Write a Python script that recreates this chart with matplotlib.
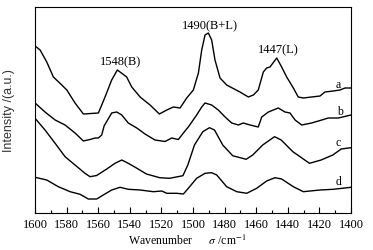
import numpy as np
import matplotlib
matplotlib.use("Agg")
import matplotlib.pyplot as plt
from matplotlib.ticker import MultipleLocator

plt.rcParams['font.family'] = ['Liberation Serif', 'DejaVu Serif']
plt.rcParams['mathtext.fontset'] = 'stix'

# spectra (wavenumber, intensity in arbitrary units)
wn_a = [1600, 1596.8, 1592.6, 1588.4, 1583.1, 1579.9, 1574.7, 1569.4, 1559.9, 1555.7,
        1551.5, 1547.9, 1542.0, 1538.8, 1533.5, 1527.2, 1521.3, 1516.6, 1512.5, 1508.2,
        1504.0, 1499.8, 1496.6, 1494.5, 1492.4, 1490.3, 1488.2, 1486.1, 1482.9, 1478.7,
        1470.3, 1465.0, 1461.8, 1458.7, 1455.5, 1453.4, 1451.3, 1447.0, 1443.9, 1440.7,
        1436.5, 1433.4, 1430.2, 1419.6, 1416.5, 1411.2, 1407.0, 1403.8, 1400.0]
int_a = [167, 163, 151, 136, 128, 123, 110, 99, 100, 116,
         133, 143, 136, 126, 116, 108, 99, 103, 106, 105,
         115, 123, 140, 163, 178, 180, 173, 153, 135, 128,
         121, 116, 118, 123, 141, 145, 146, 155, 146, 136,
         125, 116, 115, 117, 121, 122, 123, 125, 125]

wn_b = [1600, 1593.7, 1587.3, 1581.0, 1574.7, 1569.4, 1565.2, 1562.0, 1559.9, 1557.8,
        1556.3, 1551.5, 1548.3, 1545.1, 1541.0, 1535.6, 1530.4, 1524.1, 1517.7, 1513.5,
        1509.3, 1506.1, 1503.0, 1497.7, 1494.5, 1492.4, 1488.2, 1484.0, 1479.7, 1475.5,
        1471.3, 1468.2, 1463.9, 1458.7, 1456.5, 1452.3, 1446.0, 1441.8, 1438.6, 1435.4,
        1431.2, 1424.9, 1418.5, 1414.4, 1408.0, 1400]
int_b = [110, 101, 93, 88, 80, 72, 73.5, 75, 75, 78,
         87, 100, 101, 98, 90, 85, 79, 73, 71.5, 75,
         73.5, 80, 86, 98, 106, 110, 108, 103, 96, 90,
         88, 90, 88, 86, 96, 101, 105, 101, 100, 93,
         88, 90, 93, 95, 95, 98]

wn_c = [1600, 1593.7, 1587.3, 1581.0, 1574.7, 1568.4, 1565.2, 1561.0, 1554.6, 1549.4,
        1545.1, 1541.0, 1535.8, 1529.5, 1521.1, 1514.8, 1506.4, 1503.3, 1499.1, 1493.8,
        1489.6, 1486.4, 1481.2, 1474.9, 1466.4, 1462.2, 1455.9, 1448.4, 1444.2, 1436.8,
        1426.3, 1418.9, 1411.5, 1406.2, 1400]
int_c = [94.7, 83, 69.7, 56.3, 48, 39.7, 36.3, 37.5, 44, 49.7,
         53, 49.7, 45, 39, 35.3, 34.7, 37.3, 48, 68, 81.3,
         85.3, 83, 68, 57.3, 53.7, 58, 68, 76.3, 73, 61.3,
         49.7, 53, 58, 64, 65.3]

wn_d = [1600, 1592.6, 1585.3, 1577.8, 1571.5, 1566.3, 1561.0, 1556.8, 1551.5, 1546.2,
        1540.9, 1533.5, 1525.1, 1519.8, 1516.6, 1510.3, 1506.1, 1503.0, 1497.7, 1492.4,
        1488.2, 1485.0, 1478.7, 1472.3, 1466.0, 1459.7, 1453.4, 1448.1, 1443.9, 1436.5,
        1430.2, 1419.6, 1411.2, 1400]
int_d = [35.7, 33, 26.3, 21.3, 18.7, 14, 14, 18, 23, 25.7,
         23.7, 23, 21.3, 22, 19.7, 19.7, 19, 24.7, 34.7, 39.7,
         40.3, 38, 26.3, 21.3, 19.7, 24.7, 32, 35.3, 34, 26.3,
         21.3, 23, 23.7, 25.7]

curve_labels = ['a', 'b', 'c', 'd']
peak_labels = ['1548(B)', '1490(B+L)', '1447(L)']

fig = plt.figure(figsize=(3.73, 2.5), dpi=100)
ax = fig.add_axes([0.094, 0.148, 0.847, 0.824])

for wn, y in [(wn_a, int_a), (wn_b, int_b), (wn_c, int_c), (wn_d, int_d)]:
    ax.plot(wn, y, color='black', lw=1.0)

# curve letters and peak assignments
for lab, (xx, yy) in zip(curve_labels, [(1408, 128), (1407, 101), (1408, 70), (1408, 31)]):
    ax.text(xx, yy, lab, fontsize=8.5, ha='center', va='center')
for lab, (xx, yy) in zip(peak_labels, [(1546, 151), (1489, 187), (1446, 163)]):
    ax.text(xx, yy, lab, fontsize=9, ha='center', va='center')

ax.set_xlim(1600, 1400)
ax.set_ylim(0, 206)
ax.set_yticks([])
ax.xaxis.set_major_locator(MultipleLocator(20))
ax.xaxis.set_minor_locator(MultipleLocator(10))
ax.tick_params(axis='x', which='major', direction='in', length=4, width=0.8, labelsize=9, pad=4)
ax.tick_params(axis='x', which='minor', direction='in', length=2.5, width=0.8)
for s in ax.spines.values():
    s.set_linewidth(0.8)

ax.set_xlabel('Wavenumber      $\\sigma$ /cm$^{-1}$', fontsize=8.5)
ax.xaxis.set_label_coords(0.483, -0.10)
ax.set_ylabel('Intensity /(a.u.)', fontsize=9, color='#333333',
              family=['Liberation Sans', 'DejaVu Sans'])
ax.yaxis.set_label_coords(-0.063, 0.495)

plt.savefig('out.png', dpi=100)
plt.close()
